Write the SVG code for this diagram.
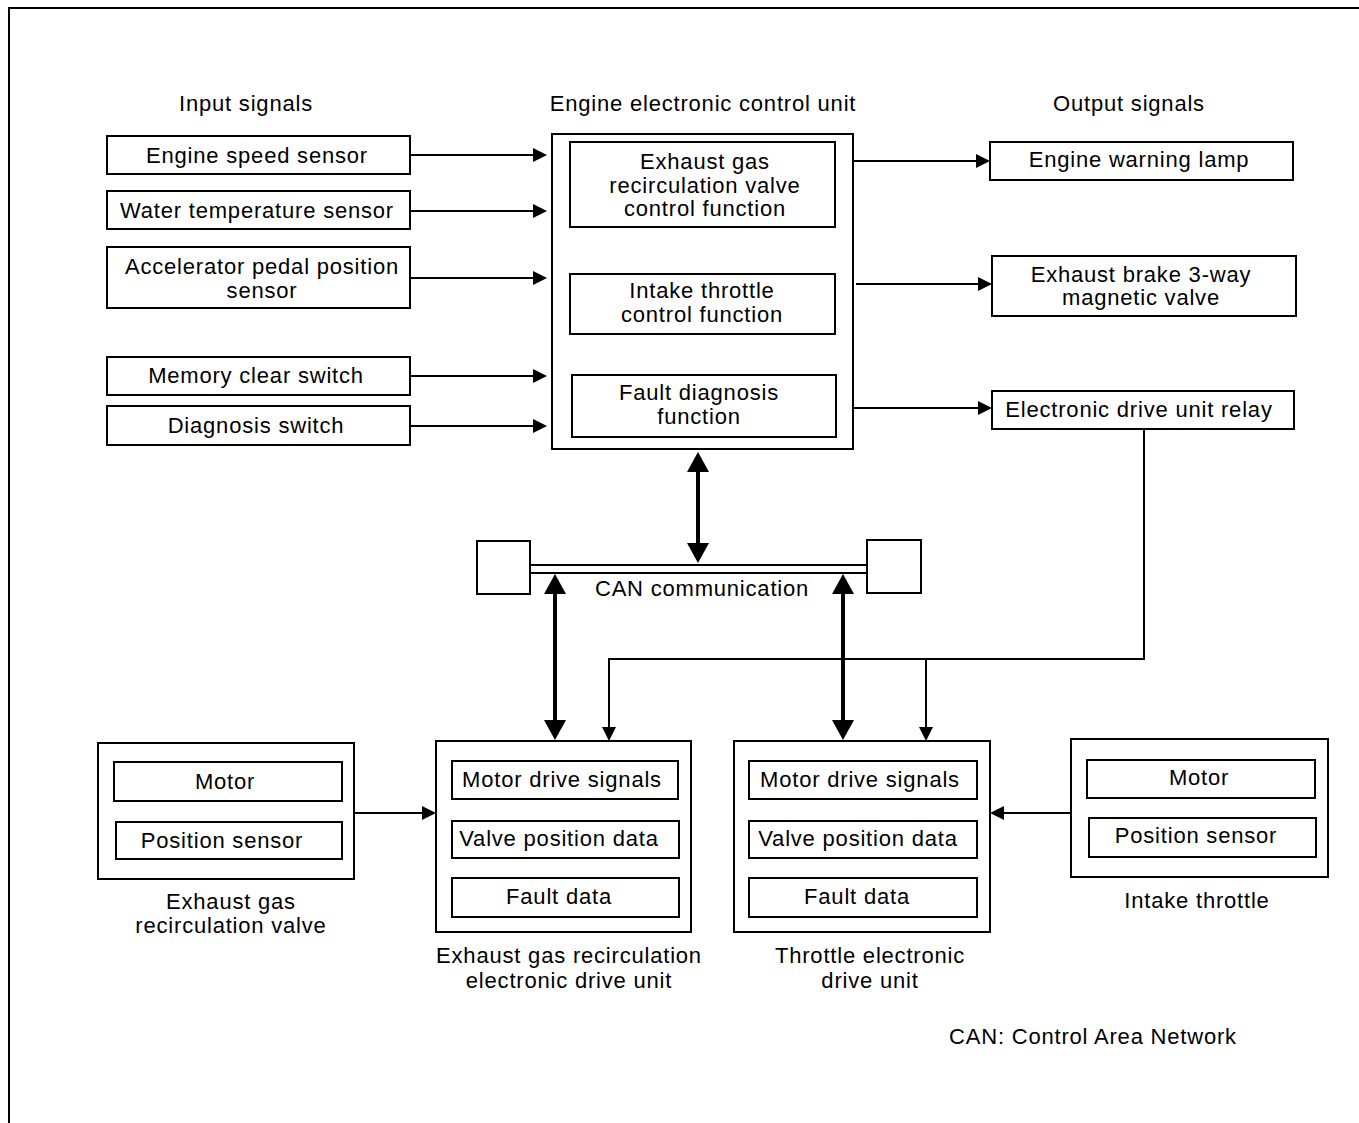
<svg xmlns="http://www.w3.org/2000/svg" width="1359" height="1123" viewBox="0 0 1359 1123">
<style>
  .box { fill: #fff; stroke: #000; stroke-width: 2; }
  .t { font-family: "Liberation Sans", Arial, sans-serif; font-size: 22px; letter-spacing: 0.8px; fill: #000; text-anchor: middle; }
  .ln { fill: none; stroke: #000; stroke-width: 2; }
  .thick { fill: none; stroke: #000; stroke-width: 4; }
</style>
<defs>
  <marker id="arr" markerUnits="userSpaceOnUse" viewBox="0 0 14 14" refX="7" refY="7" markerWidth="14" markerHeight="14" orient="auto">
    <path d="M0,0 L14,7 L0,14 Z" fill="#000"/>
  </marker>
  <marker id="big" markerUnits="userSpaceOnUse" viewBox="0 0 20 22" refX="10" refY="11" markerWidth="20" markerHeight="22" orient="auto-start-reverse">
    <path d="M0,0 L20,11 L0,22 Z" fill="#000"/>
  </marker>
</defs>
<rect width="1359" height="1123" fill="#fff"/>
<g id="frame">
  <path class="ln" d="M9,1123 L9,8 L1359,8"/>
</g>

<g id="headers">
  <text class="t" x="246" y="111">Input signals</text>
  <text class="t" x="703" y="111">Engine electronic control unit</text>
  <text class="t" x="1129" y="111">Output signals</text>
</g>

<g id="in-engine-speed">
  <rect class="box" x="107" y="136" width="303" height="38"/>
  <text class="t" x="257" y="163">Engine speed sensor</text>
</g>
<g id="in-water-temp">
  <rect class="box" x="107" y="191" width="303" height="38"/>
  <text class="t" x="257" y="218">Water temperature sensor</text>
</g>
<g id="in-accel">
  <rect class="box" x="107" y="247" width="303" height="61"/>
  <text class="t" x="262" y="274">Accelerator pedal position</text>
  <text class="t" x="262" y="298">sensor</text>
</g>
<g id="in-memory-clear">
  <rect class="box" x="107" y="357" width="303" height="38"/>
  <text class="t" x="256" y="383">Memory clear switch</text>
</g>
<g id="in-diagnosis">
  <rect class="box" x="107" y="406" width="303" height="39"/>
  <text class="t" x="256" y="433">Diagnosis switch</text>
</g>

<g id="ecu">
  <rect class="box" x="552" y="134" width="301" height="315"/>
  <rect class="box" x="570" y="142" width="265" height="85"/>
  <text class="t" x="705" y="169">Exhaust gas</text>
  <text class="t" x="705" y="193">recirculation valve</text>
  <text class="t" x="705" y="216">control function</text>
  <rect class="box" x="570" y="274" width="265" height="60"/>
  <text class="t" x="702" y="298">Intake throttle</text>
  <text class="t" x="702" y="322">control function</text>
  <rect class="box" x="572" y="375" width="264" height="62"/>
  <text class="t" x="699" y="400">Fault diagnosis</text>
  <text class="t" x="699" y="424">function</text>
</g>

<g id="out-warning-lamp">
  <rect class="box" x="990" y="142" width="303" height="38"/>
  <text class="t" x="1139" y="167">Engine warning lamp</text>
</g>
<g id="out-exhaust-brake">
  <rect class="box" x="992" y="256" width="304" height="60"/>
  <text class="t" x="1141" y="282">Exhaust brake 3-way</text>
  <text class="t" x="1141" y="305">magnetic valve</text>
</g>
<g id="out-relay">
  <rect class="box" x="992" y="391" width="302" height="38"/>
  <text class="t" x="1139" y="417">Electronic drive unit relay</text>
</g>

<g id="can">
  <rect class="box" x="477" y="541" width="53" height="53"/>
  <rect class="box" x="867" y="540" width="54" height="53"/>
  <line class="ln" x1="530" y1="565" x2="867" y2="565"/>
  <line class="ln" x1="530" y1="573" x2="867" y2="573"/>
  <text class="t" x="702" y="596">CAN communication</text>
</g>

<g id="egr-valve">
  <rect class="box" x="98" y="743" width="256" height="136"/>
  <rect class="box" x="114" y="762" width="228" height="39"/>
  <text class="t" x="225" y="789">Motor</text>
  <rect class="box" x="116" y="822" width="226" height="37"/>
  <text class="t" x="222" y="848">Position sensor</text>
  <text class="t" x="231" y="909">Exhaust gas</text>
  <text class="t" x="231" y="933">recirculation valve</text>
</g>

<g id="egr-edu">
  <rect class="box" x="436" y="741" width="255" height="191"/>
  <rect class="box" x="452" y="761" width="226" height="38"/>
  <text class="t" x="562" y="787">Motor drive signals</text>
  <rect class="box" x="452" y="821" width="227" height="37"/>
  <text class="t" x="559" y="846">Valve position data</text>
  <rect class="box" x="452" y="878" width="227" height="39"/>
  <text class="t" x="559" y="904">Fault data</text>
  <text class="t" x="569" y="963">Exhaust gas recirculation</text>
  <text class="t" x="569" y="988">electronic drive unit</text>
</g>

<g id="throttle-edu">
  <rect class="box" x="734" y="741" width="256" height="191"/>
  <rect class="box" x="749" y="761" width="228" height="38"/>
  <text class="t" x="860" y="787">Motor drive signals</text>
  <rect class="box" x="749" y="821" width="228" height="37"/>
  <text class="t" x="858" y="846">Valve position data</text>
  <rect class="box" x="749" y="878" width="228" height="39"/>
  <text class="t" x="857" y="904">Fault data</text>
  <text class="t" x="870" y="963">Throttle electronic</text>
  <text class="t" x="870" y="988">drive unit</text>
</g>

<g id="intake-throttle">
  <rect class="box" x="1071" y="739" width="257" height="138"/>
  <rect class="box" x="1087" y="760" width="228" height="38"/>
  <text class="t" x="1199" y="785">Motor</text>
  <rect class="box" x="1089" y="818" width="227" height="39"/>
  <text class="t" x="1196" y="843">Position sensor</text>
  <text class="t" x="1197" y="908">Intake throttle</text>
</g>

<g id="note">
  <text class="t" x="1093" y="1044">CAN: Control Area Network</text>
</g>

<g id="connectors">
  <line class="ln" x1="410" y1="155" x2="540" y2="155" marker-end="url(#arr)"/>
  <line class="ln" x1="410" y1="211" x2="540" y2="211" marker-end="url(#arr)"/>
  <line class="ln" x1="410" y1="278" x2="540" y2="278" marker-end="url(#arr)"/>
  <line class="ln" x1="410" y1="376" x2="540" y2="376" marker-end="url(#arr)"/>
  <line class="ln" x1="410" y1="426" x2="540" y2="426" marker-end="url(#arr)"/>

  <line class="ln" x1="853" y1="161" x2="983" y2="161" marker-end="url(#arr)"/>
  <line class="ln" x1="856" y1="284" x2="985" y2="284" marker-end="url(#arr)"/>
  <line class="ln" x1="853" y1="408" x2="985" y2="408" marker-end="url(#arr)"/>

  <line class="thick" x1="698" y1="462" x2="698" y2="553" marker-start="url(#big)" marker-end="url(#big)"/>
  <line class="thick" x1="555" y1="584" x2="555" y2="730" marker-start="url(#big)" marker-end="url(#big)"/>
  <line class="thick" x1="843" y1="584" x2="843" y2="730" marker-start="url(#big)" marker-end="url(#big)"/>

  <path class="ln" d="M1144,429 L1144,659 L609,659 L609,734" marker-end="url(#arr)"/>
  <line class="ln" x1="926" y1="659" x2="926" y2="734" marker-end="url(#arr)"/>

  <line class="ln" x1="354" y1="813" x2="429" y2="813" marker-end="url(#arr)"/>
  <line class="ln" x1="1071" y1="813" x2="997" y2="813" marker-end="url(#arr)"/>
</g>
</svg>
